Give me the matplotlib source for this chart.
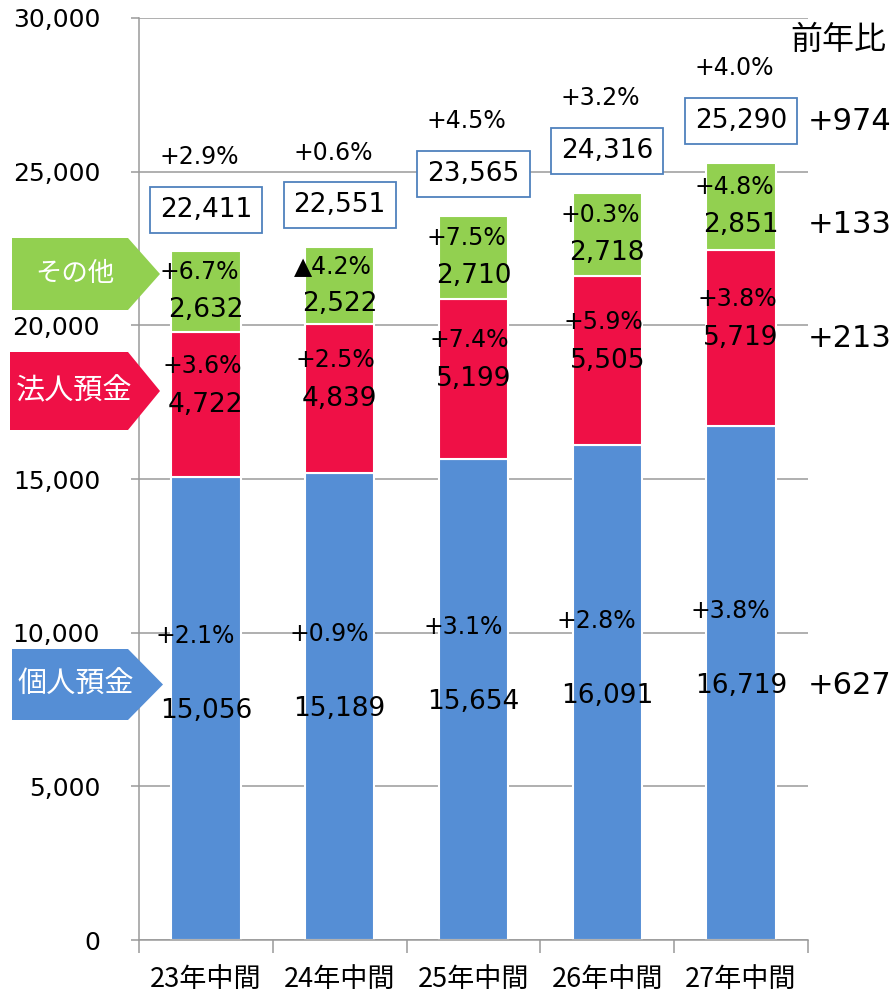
import numpy as np
import matplotlib.pyplot as plt
from matplotlib.patches import Polygon

plt.rcParams['font.family'] = ['DejaVu Sans', 'Noto Sans CJK JP']

# data (deposit balance, 100 million yen)
categories = ['23年中間', '24年中間', '25年中間', '26年中間', '27年中間']
personal = [15056, 15189, 15654, 16091, 16719]
corporate = [4722, 4839, 5199, 5505, 5719]
other = [2632, 2522, 2710, 2718, 2851]
totals = [22411, 22551, 23565, 24316, 25290]

personal_pct = ['+2.1%', '+0.9%', '+3.1%', '+2.8%', '+3.8%']
corporate_pct = ['+3.6%', '+2.5%', '+7.4%', '+5.9%', '+3.8%']
other_pct = ['+6.7%', '▲4.2%', '+7.5%', '+0.3%', '+4.8%']
total_pct = ['+2.9%', '+0.6%', '+4.5%', '+3.2%', '+4.0%']

# year-on-year differences of the latest period
diff_total = '+974'
diff_other = '+133'
diff_corporate = '+213'
diff_personal = '+627'

BLUE = '#558ED5'
RED = '#EF1046'
GREEN = '#92D050'
GRID = '#9A9A9A'

VAL_SIZE = 19
PCT_SIZE = 17

W, H = 893, 994
fig = plt.figure(figsize=(W / 100, H / 100), dpi=100)
ax = fig.add_axes([139 / W, 1 - 940 / H, (808 - 139) / W, (940 - 18) / H])

x = np.arange(len(categories))
personal = np.array(personal)
corporate = np.array(corporate)
other = np.array(other)
bw = 0.52

ax.bar(x, personal, bw, color=BLUE, edgecolor='white', linewidth=1.5, zorder=2)
ax.bar(x, corporate, bw, bottom=personal, color=RED, edgecolor='white', linewidth=1.5, zorder=2)
ax.bar(x, other, bw, bottom=personal + corporate, color=GREEN, edgecolor='white', linewidth=1.5, zorder=2)

ax.set_xlim(-0.5, len(categories) - 0.5)
ax.set_ylim(0, 30000)
ax.set_yticks(np.arange(0, 30001, 5000))
ax.set_yticklabels([f'{v:,}' for v in range(0, 30001, 5000)], fontsize=18)
ax.tick_params(axis='y', length=6, width=1.1, color=GRID, pad=22)
ax.grid(axis='y', color=GRID, linewidth=1.1, zorder=0)
ax.set_axisbelow(True)

ax.set_xticks(x)
ax.set_xticklabels(categories, fontsize=19.5, family='Noto Sans CJK JP')
ax.tick_params(axis='x', length=0, pad=19)
ax.set_xticks(np.arange(-0.5, len(categories)), minor=True)
ax.tick_params(axis='x', which='minor', length=9, width=1.1, color=GRID)

for s in ['top', 'right']:
    ax.spines[s].set_visible(False)
for s in ['left', 'bottom']:
    ax.spines[s].set_color(GRID)
    ax.spines[s].set_linewidth(1.1)


def label(xi, y, text, dy, size):
    ax.annotate(text, (xi, y), xytext=(0, dy), textcoords='offset points',
                ha='center', va='center', fontsize=size, zorder=5,
                annotation_clip=False)


for i in x:
    mid_p = personal[i] / 2
    mid_c = personal[i] + corporate[i] / 2
    mid_o = personal[i] + corporate[i] + other[i] / 2
    top = personal[i] + corporate[i] + other[i]
    label(i, mid_p, f'{personal[i]:,}', -2, VAL_SIZE)
    label(i - 0.08, mid_p, personal_pct[i], 52, PCT_SIZE)
    label(i, mid_c, f'{corporate[i]:,}', 0, VAL_SIZE)
    label(i - 0.03, mid_c, corporate_pct[i], 28, PCT_SIZE)
    label(i, mid_o, f'{other[i]:,}', -13, VAL_SIZE)
    label(i - 0.05, mid_o, other_pct[i], 14, PCT_SIZE)
    ax.annotate(f'{totals[i]:,}', (i, top), xytext=(0, 30), textcoords='offset points',
                ha='center', va='center', fontsize=VAL_SIZE, zorder=5, annotation_clip=False,
                bbox=dict(boxstyle='square,pad=0.38', fc='white', ec='#4F81BD', lw=1.3))
    label(i - 0.05, top, total_pct[i], 68, PCT_SIZE)

# year-on-year column on the right
last = len(categories) - 1
p_l, c_l, o_l = personal[last], corporate[last], other[last]
right_items = [
    (p_l + c_l + o_l, 30, diff_total),
    (p_l + c_l + o_l / 2, -13, diff_other),
    (p_l + c_l / 2, 0, diff_corporate),
    (p_l / 2, -2, diff_personal),
]
for y, dy, text in right_items:
    ax.annotate(text, (1.0, y), xycoords=('axes fraction', 'data'), xytext=(0, dy),
                textcoords='offset points', ha='left', va='center', fontsize=22,
                annotation_clip=False)

fig.text(838 / W, 1 - 40 / H, '前年比', ha='center', va='center', fontsize=23,
         family='Noto Sans CJK JP')


# legend tags (home-plate shapes) on the left
def tag(x0, x1, tip, y0, y1, color, text, size):
    yc = (y0 + y1) / 2
    pts = [(x0, y0), (x1, y0), (tip, yc), (x1, y1), (x0, y1)]
    pts = [(px / W, 1 - py / H) for px, py in pts]
    fig.add_artist(Polygon(pts, closed=True, transform=fig.transFigure,
                           facecolor=color, edgecolor='none', zorder=3))
    fig.text((x0 + x1) / 2 / W + 0.006, 1 - yc / H, text, ha='center', va='center',
             color='white', fontsize=size, family='Noto Sans CJK JP', zorder=4)


tag(12, 128, 160, 238, 310, GREEN, 'その他', 19)
tag(10, 128, 160, 352, 430, RED, '法人預金', 21)
tag(12, 128, 163, 649, 720, BLUE, '個人預金', 21)

fig.savefig('out.png', dpi=100)
